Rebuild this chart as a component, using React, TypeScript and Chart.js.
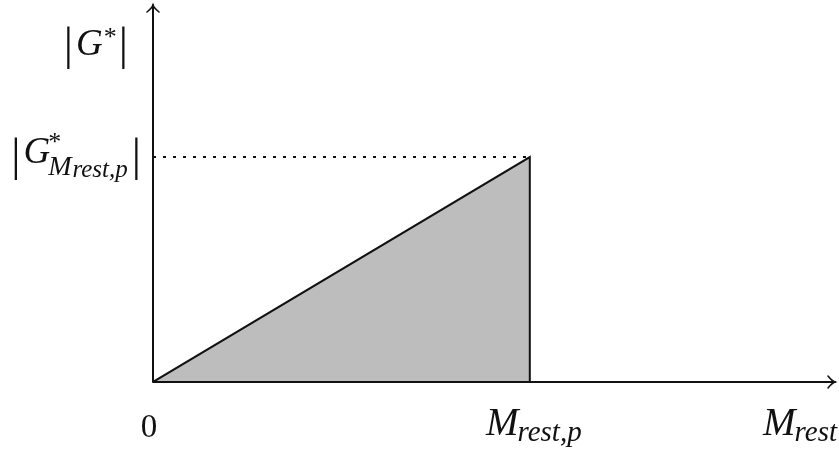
import React, { useEffect, useRef } from "react";
import { Chart, registerables } from "chart.js";

Chart.register(...registerables);

// Gain magnitude |G*| rises linearly with M_rest up to M_rest,p (normalised to 1).
const mRest: number[] = [0, 1, 1];
const gainMag: number[] = [0, 1, 0];
// Dotted reference level at |G*_{M_rest,p}|
const refX: number[] = [0, 1];
const refY: number[] = [1, 1];
// Axis extents beyond the data
const X_MAX = 1.81;
const Y_MAX = 1.676;

const SERIF = '"Liberation Serif", "DejaVu Serif", serif';

type Part = { t: string; size: number; italic?: boolean; dy?: number; dx?: number };

function runWidth(ctx: CanvasRenderingContext2D, parts: Part[]): number {
  let w = 0;
  for (const p of parts) {
    ctx.font = `${p.italic ? "italic " : ""}${p.size}px ${SERIF}`;
    w += (p.dx || 0) + ctx.measureText(p.t).width;
  }
  return w;
}

function drawRun(ctx: CanvasRenderingContext2D, x: number, y: number, parts: Part[]) {
  let cx = x;
  for (const p of parts) {
    ctx.font = `${p.italic ? "italic " : ""}${p.size}px ${SERIF}`;
    cx += p.dx || 0;
    ctx.fillText(p.t, cx, y + (p.dy || 0));
    cx += ctx.measureText(p.t).width;
  }
}

const axesPlugin = {
  id: "arrowAxes",
  afterDatasetsDraw(chart: any) {
    const { ctx, chartArea } = chart;
    const xs = chart.scales.x;
    const ys = chart.scales.y;
    const x0 = xs.getPixelForValue(0);
    const y0 = ys.getPixelForValue(0);
    const xEnd = chartArea.right;
    const yEnd = chartArea.top;
    ctx.save();
    ctx.strokeStyle = "#111";
    ctx.lineWidth = 2;
    ctx.lineCap = "round";
    ctx.beginPath();
    ctx.moveTo(x0, y0);
    ctx.lineTo(xEnd, y0);
    ctx.moveTo(x0, y0);
    ctx.lineTo(x0, yEnd);
    ctx.stroke();
    // curved arrow tips
    ctx.lineWidth = 1.6;
    ctx.beginPath();
    ctx.moveTo(xEnd - 7, y0 - 6);
    ctx.quadraticCurveTo(xEnd - 3, y0 - 1, xEnd, y0);
    ctx.quadraticCurveTo(xEnd - 3, y0 + 1, xEnd - 7, y0 + 6);
    ctx.moveTo(x0 - 6, yEnd + 7);
    ctx.quadraticCurveTo(x0 - 1, yEnd + 3, x0, yEnd);
    ctx.quadraticCurveTo(x0 + 1, yEnd + 3, x0 + 6, yEnd + 7);
    ctx.stroke();
    ctx.restore();
  },
  afterDraw(chart: any) {
    const { ctx, chartArea } = chart;
    const xs = chart.scales.x;
    const ys = chart.scales.y;
    const x0 = xs.getPixelForValue(0);
    const y0 = ys.getPixelForValue(0);
    const xp = xs.getPixelForValue(1);
    const yp = ys.getPixelForValue(1);
    ctx.save();
    ctx.fillStyle = "#111";
    ctx.textBaseline = "alphabetic";
    ctx.textAlign = "left";

    // y-axis title |G*|
    const gTitle: Part[] = [
      { t: "|", size: 46 },
      { t: "G", size: 37, italic: true, dx: 3, dy: -4 },
      { t: "*", size: 26, dy: -14, dx: 1 },
      { t: "|", size: 46, dx: 2 },
    ];
    const gw = runWidth(ctx, gTitle);
    drawRun(ctx, x0 - 25 - gw, chartArea.top + 54, gTitle);

    // level label |G*_{M_rest,p}|
    const lvl: Part[] = [
      { t: "|", size: 46 },
      { t: "G", size: 37, italic: true, dx: 3, dy: -7 },
      { t: "*", size: 26, dy: -20, dx: -2 },
      { t: "M", size: 28, italic: true, dx: -13, dy: 5 },
      { t: "rest,p", size: 25, italic: true, dy: 7, dx: 1 },
      { t: "|", size: 46, dx: 4 },
    ];
    const lw = runWidth(ctx, lvl);
    drawRun(ctx, x0 - 12 - lw, yp + 13, lvl);

    // x-axis labels
    ctx.font = `33px ${SERIF}`;
    ctx.textAlign = "center";
    ctx.fillText("0", x0 - 4, y0 + 55);
    ctx.textAlign = "left";

    const mp: Part[] = [
      { t: "M", size: 39, italic: true },
      { t: "rest,p", size: 29, italic: true, dy: 6, dx: -1 },
    ];
    const mpw = runWidth(ctx, mp);
    drawRun(ctx, xp + 4 - mpw / 2, y0 + 53, mp);

    const mr: Part[] = [
      { t: "M", size: 39, italic: true },
      { t: "rest", size: 29, italic: true, dy: 6, dx: -1 },
    ];
    const mrw = runWidth(ctx, mr);
    drawRun(ctx, chartArea.right + 2 - mrw, y0 + 53, mr);
    ctx.restore();
  },
};

export default function App() {
  const ref = useRef<HTMLCanvasElement | null>(null);

  useEffect(() => {
    if (!ref.current) return;
    const chart = new Chart(ref.current, {
      type: "line",
      data: {
        datasets: [
          {
            data: mRest.map((m, i) => ({ x: m, y: gainMag[i] })),
            borderColor: "#111",
            borderWidth: 2,
            backgroundColor: "#bdbdbd",
            fill: "origin",
            pointRadius: 0,
            tension: 0,
          },
          {
            data: refX.map((m, i) => ({ x: m, y: refY[i] })),
            borderColor: "#111",
            borderWidth: 2,
            borderDash: [3, 7],
            fill: false,
            pointRadius: 0,
          },
        ],
      },
      options: {
        responsive: false,
        animation: false,
        layout: { padding: { left: 153, right: 4, top: 5, bottom: 74 } },
        plugins: { legend: { display: false }, tooltip: { enabled: false } },
        scales: {
          x: { type: "linear", min: 0, max: X_MAX, display: false },
          y: { type: "linear", min: 0, max: Y_MAX, display: false },
        },
      },
      plugins: [axesPlugin],
    });
    return () => chart.destroy();
  }, []);

  return (
    <div style={{ position: "absolute", left: 0, top: 0, width: 839, height: 456, background: "#fff" }}>
      <canvas ref={ref} width={839} height={456} />
    </div>
  );
}
